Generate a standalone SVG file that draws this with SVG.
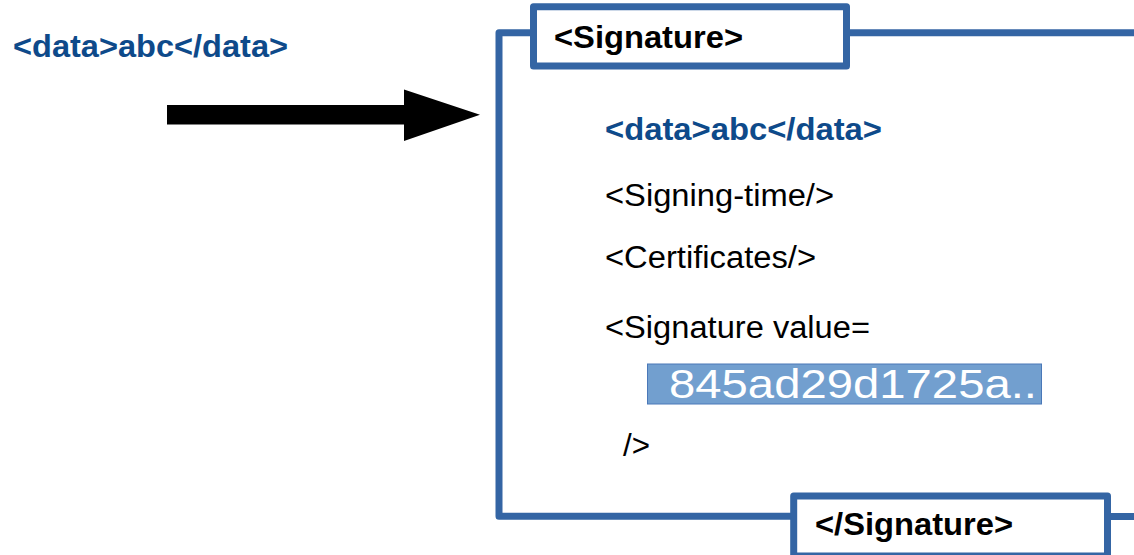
<svg xmlns="http://www.w3.org/2000/svg" width="1134" height="555" viewBox="0 0 1134 555">
  <style>
    .frame { fill: none; stroke: #3465a4; stroke-width: 7; stroke-linejoin: round; }
    .tagbox { fill: #ffffff; stroke: #3465a4; stroke-width: 7; stroke-linejoin: round; }
    .tag { font-family: "Liberation Sans", Arial, sans-serif; font-size: 31px; font-weight: bold; fill: #000000; }
    .data { font-family: "Liberation Sans", Arial, sans-serif; font-size: 31px; font-weight: bold; fill: #0e4a8a; }
    .line { font-family: "Liberation Sans", Arial, sans-serif; font-size: 31px; fill: #000000; }
    .hash { font-family: "Liberation Sans", Arial, sans-serif; font-size: 41px; fill: #ffffff; }
  </style>

  <!-- plain data element -->
  <g id="input-data">
    <text class="data" x="13" y="57" textLength="275" lengthAdjust="spacingAndGlyphs">&lt;data&gt;abc&lt;/data&gt;</text>
  </g>

  <!-- connectors: arrow and the enveloping frame -->
  <g id="connectors">
    <polygon points="167,105 404,105 404,89.5 480,114.7 404,141 404,124.5 167,124.5" fill="#000000"/>
    <path class="frame" d="M 533 32.7 H 499 V 516.3 H 794"/>
    <path class="frame" d="M 847 32.7 H 1138"/>
    <path class="frame" d="M 1107 516.5 H 1138"/>
  </g>

  <!-- opening tag -->
  <g id="signature-open">
    <rect class="tagbox" x="533.5" y="6.7" width="313" height="59.3"/>
    <text class="tag" x="554" y="47.5" textLength="189" lengthAdjust="spacingAndGlyphs">&lt;Signature&gt;</text>
  </g>

  <!-- closing tag -->
  <g id="signature-close">
    <rect class="tagbox" x="793.7" y="496" width="313.8" height="60"/>
    <text class="tag" x="815" y="535" textLength="198" lengthAdjust="spacingAndGlyphs">&lt;/Signature&gt;</text>
  </g>

  <!-- enveloped content -->
  <g id="signature-content">
    <text class="data" x="605" y="140" textLength="277" lengthAdjust="spacingAndGlyphs">&lt;data&gt;abc&lt;/data&gt;</text>
    <text class="line" x="605" y="206" textLength="229" lengthAdjust="spacingAndGlyphs">&lt;Signing-time/&gt;</text>
    <text class="line" x="605" y="268" textLength="211" lengthAdjust="spacingAndGlyphs">&lt;Certificates/&gt;</text>
    <text class="line" x="605" y="338" textLength="265" lengthAdjust="spacingAndGlyphs">&lt;Signature value=</text>
    <rect x="647.5" y="364" width="394" height="40" fill="#729fcf" stroke="#4a78b8" stroke-width="1"/>
    <text class="hash" x="669" y="398" textLength="368" lengthAdjust="spacingAndGlyphs">845ad29d1725a..</text>
    <text class="line" x="623" y="456" textLength="27" lengthAdjust="spacingAndGlyphs">/&gt;</text>
  </g>
</svg>
